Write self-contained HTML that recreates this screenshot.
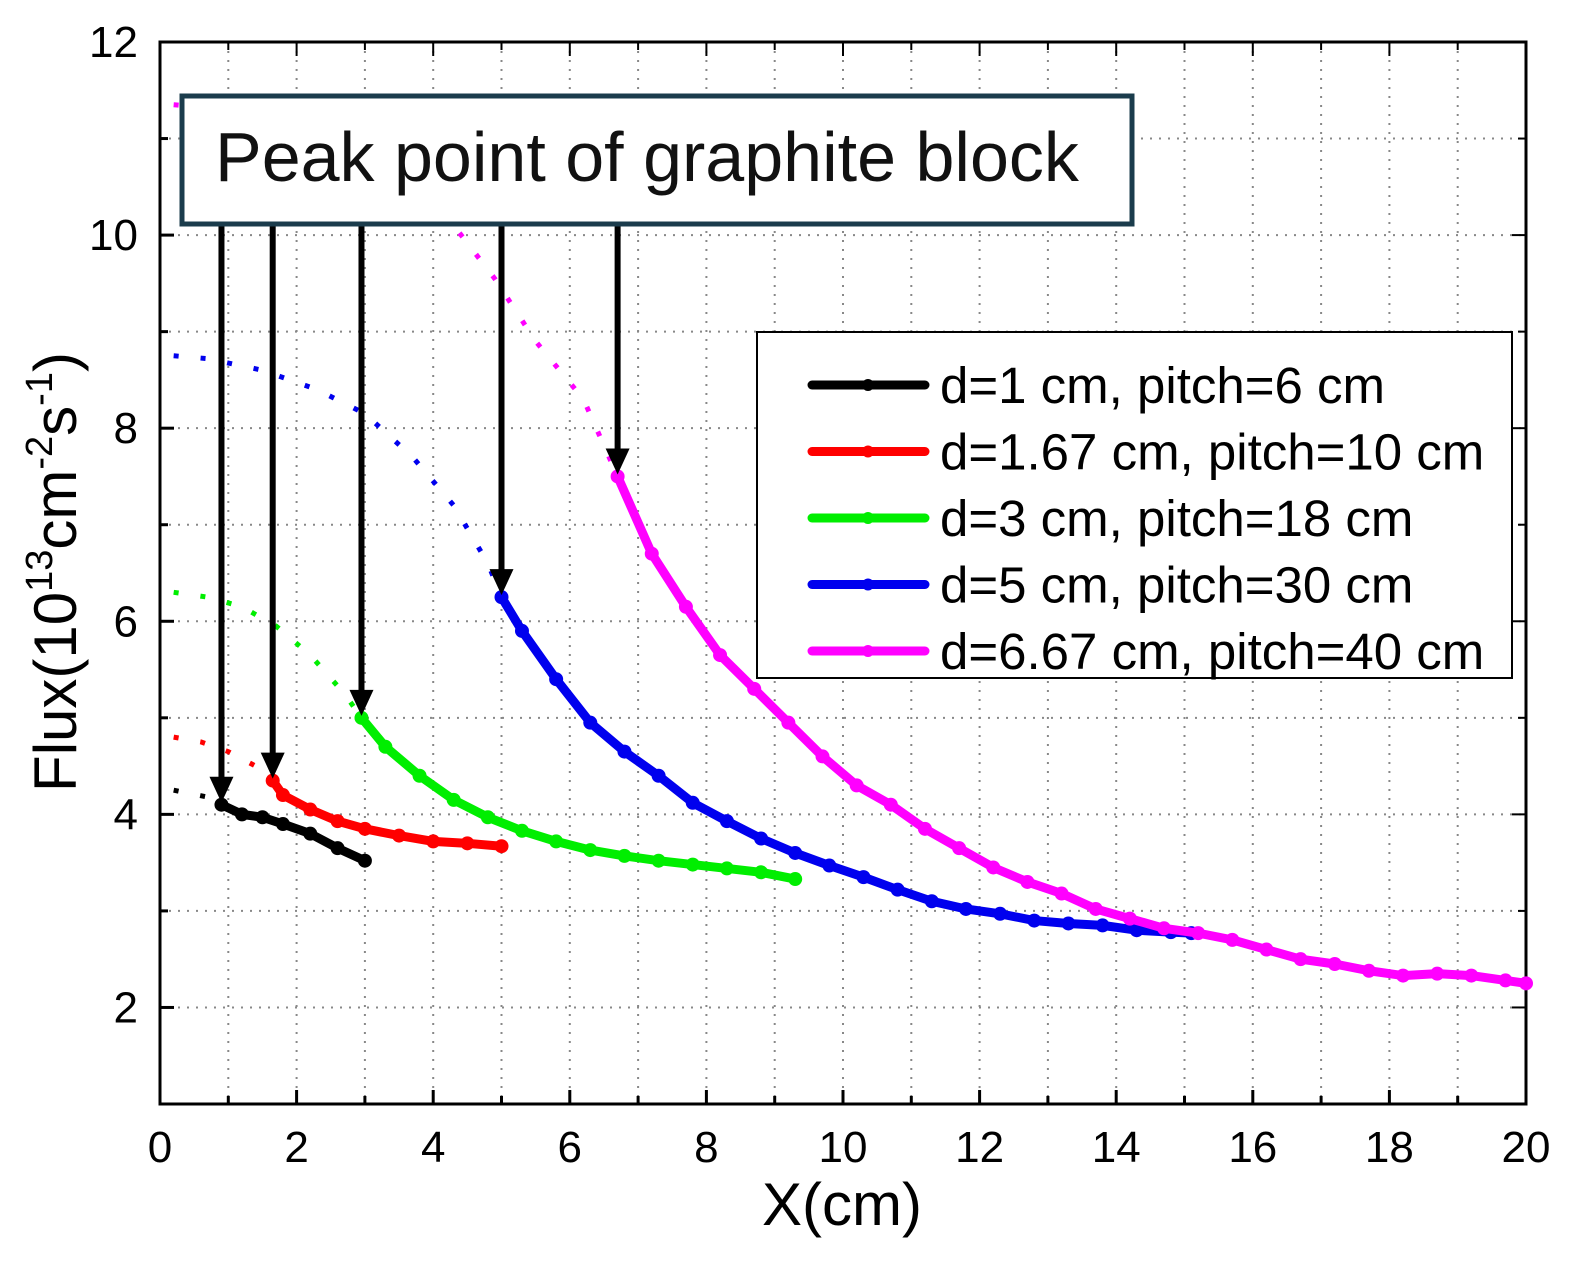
<!DOCTYPE html>
<html><head><meta charset="utf-8"><style>
body{margin:0;background:#fff;}
svg{display:block;font-family:"Liberation Sans",Arial,sans-serif;}
</style></head><body>
<svg id="chart" width="1588" height="1266" xmlns="http://www.w3.org/2000/svg">
<g id="grid"></g>
<g id="axes"></g>
<g id="series"></g>
<g id="arrows"></g>
<rect x="182" y="96" width="950" height="128" fill="#fff" stroke="#1b3c4c" stroke-width="5"/>
<text x="215" y="181" font-size="70" fill="#111">Peak point of graphite block</text>
<g id="legend"></g>
<text x="842" y="1225" font-size="60" text-anchor="middle" fill="#000">X(cm)</text>
<text transform="translate(76,572) rotate(-90)" font-size="60" text-anchor="middle" fill="#000">Flux(10<tspan font-size="38" dy="-24">13</tspan><tspan dy="24">cm</tspan><tspan font-size="38" dy="-24">-2</tspan><tspan dy="24">s</tspan><tspan font-size="38" dy="-24">-1</tspan><tspan dy="24">)</tspan></text>
</svg>
<script>
const xTicks=[0,2,4,6,8,10,12,14,16,18,20];
const yTicks=[2,4,6,8,10,12];
const seriesNames=["d=1 cm, pitch=6 cm","d=1.67 cm, pitch=10 cm","d=3 cm, pitch=18 cm","d=5 cm, pitch=30 cm","d=6.67 cm, pitch=40 cm"];
const seriesColors=["#000000","#ff0000","#00ee00","#0000ee","#ff00ff"];
const dotX0=[0.2,0.9];
const dotY0=[4.25,4.15];
const solX0=[0.9,1.2,1.5,1.8,2.2,2.6,3.0];
const solY0=[4.1,4.0,3.97,3.9,3.8,3.65,3.52];
const dotX1=[0.2,0.6,1.0,1.4,1.65];
const dotY1=[4.8,4.75,4.65,4.5,4.35];
const solX1=[1.65,1.8,2.2,2.6,3.0,3.5,4.0,4.5,5.0];
const solY1=[4.35,4.2,4.05,3.93,3.85,3.78,3.72,3.7,3.67];
const dotX2=[0.2,0.7,1.2,1.7,2.2,2.7,2.95];
const dotY2=[6.3,6.25,6.15,5.95,5.65,5.25,5.0];
const solX2=[2.95,3.3,3.8,4.3,4.8,5.3,5.8,6.3,6.8,7.3,7.8,8.3,8.8,9.3];
const solY2=[5.0,4.7,4.4,4.15,3.97,3.83,3.72,3.63,3.57,3.52,3.48,3.44,3.4,3.33];
const dotX3=[0.2,0.7,1.5,2.3,3.0,3.7,4.3,4.8,5.0];
const dotY3=[8.75,8.72,8.6,8.4,8.15,7.7,7.2,6.6,6.25];
const solX3=[5.0,5.3,5.8,6.3,6.8,7.3,7.8,8.3,8.8,9.3,9.8,10.3,10.8,11.3,11.8,12.3,12.8,13.3,13.8,14.3,14.8,15.1];
const solY3=[6.25,5.9,5.4,4.95,4.65,4.4,4.12,3.93,3.75,3.6,3.47,3.35,3.22,3.1,3.02,2.97,2.9,2.87,2.85,2.8,2.78,2.77];
const dotX4=[0.2,0.7,1.5,2.3,3.0,3.7,4.3,4.9,5.5,6.2,6.7];
const dotY4=[11.35,11.32,11.28,11.1,10.8,10.5,10.1,9.55,8.9,8.3,7.5];
const solX4=[6.7,7.2,7.7,8.2,8.7,9.2,9.7,10.2,10.7,11.2,11.7,12.2,12.7,13.2,13.7,14.2,14.7,15.2,15.7,16.2,16.7,17.2,17.7,18.2,18.7,19.2,19.7,20];
const solY4=[7.5,6.7,6.15,5.65,5.3,4.95,4.6,4.3,4.1,3.85,3.65,3.45,3.3,3.18,3.02,2.92,2.82,2.77,2.7,2.6,2.5,2.45,2.38,2.33,2.35,2.33,2.28,2.25];
const arrowX=[0.9,1.65,2.95,5.0,6.7];
const arrowY=[4.1,4.35,5.0,6.25,7.5];

const L=160,R=1526,T=42,B=1104;
const sx=v=>L+(v-0)*(R-L)/20;
const sy=v=>B-(v-1)*(B-T)/11;
const NS="http://www.w3.org/2000/svg";
function mk(tag,parent,attrs){const e=document.createElementNS(NS,tag);for(const k in attrs)e.setAttribute(k,attrs[k]);parent.appendChild(e);return e;}
const grid=document.getElementById('grid'),axes=document.getElementById('axes'),ser=document.getElementById('series'),arr=document.getElementById('arrows'),leg=document.getElementById('legend');
for(let v=1;v<20;v++){const e=mk('line',grid,{x1:sx(v),x2:sx(v),y1:T,y2:B,stroke:'#888','stroke-width':2,'stroke-dasharray':'2 7'});

}
for(let v=2;v<12;v++){const e=mk('line',grid,{x1:L,x2:R,y1:sy(v),y2:sy(v),stroke:'#888','stroke-width':2,'stroke-dasharray':'2 7'});

}
const fr=mk('rect',axes,{x:L,y:T,width:R-L,height:B-T,fill:'none',stroke:'#000','stroke-width':3});


for(let v=0;v<=20;v++){const big=v%2===0;mk('line',axes,{x1:sx(v),x2:sx(v),y1:B,y2:B-(big?14:8),stroke:'#000','stroke-width':3});mk('line',axes,{x1:sx(v),x2:sx(v),y1:T,y2:T+(big?14:8),stroke:'#000','stroke-width':2});}
for(let v=1;v<=12;v++){const big=v%2===0;mk('line',axes,{x1:L,x2:L+(big?14:8),y1:sy(v),y2:sy(v),stroke:'#000','stroke-width':3});mk('line',axes,{x1:R,x2:R-(big?14:8),y1:sy(v),y2:sy(v),stroke:'#000','stroke-width':2});}
xTicks.forEach(v=>{const t=mk('text',axes,{x:sx(v),y:1162,'font-size':44,'text-anchor':'middle'});t.textContent=v;

});
yTicks.forEach(v=>{const t=mk('text',axes,{x:138,y:sy(v)+15,'font-size':44,'text-anchor':'end'});t.textContent=v;

});
const dots=[[dotX0,dotY0],[dotX1,dotY1],[dotX2,dotY2],[dotX3,dotY3],[dotX4,dotY4]];
const sols=[[solX0,solY0],[solX1,solY1],[solX2,solY2],[solX3,solY3],[solX4,solY4]];
const pts=(xs,ys)=>xs.map((x,i)=>sx(x)+','+sy(ys[i])).join(' ');
for(let s=0;s<5;s++){const c=seriesColors[s];
const d=mk('polyline',ser,{points:pts(dots[s][0],dots[s][1]),fill:'none',stroke:c,'stroke-width':5,'stroke-dasharray':'5 22'});


const p=mk('polyline',ser,{points:pts(sols[s][0],sols[s][1]),fill:'none',stroke:c,'stroke-width':9,'stroke-linejoin':'round'});


sols[s][0].forEach((x,i)=>{const m=mk('circle',ser,{cx:sx(x),cy:sy(sols[s][1][i]),r:7,fill:c});

});}
arrowX.forEach((x,i)=>{const px=sx(x),py=sy(arrowY[i]);
const l=mk('line',arr,{x1:px,x2:px,y1:226,y2:py-20,stroke:'#000','stroke-width':6});


const h=mk('polygon',arr,{points:`${px-12},${py-28} ${px+12},${py-28} ${px},${py-2}`,fill:'#000'});

});
const lb=mk('rect',leg,{x:757,y:332,width:755,height:346,fill:'#fff',stroke:'#000','stroke-width':2});


seriesNames.forEach((n,i)=>{const y=385+i*66.5;
const g=mk('g',leg,{});


mk('line',g,{x1:812,x2:925,y1:y,y2:y,stroke:seriesColors[i],'stroke-width':9,'stroke-linecap':'round'});
mk('circle',g,{cx:868,cy:y,r:6,fill:seriesColors[i]});
const t=mk('text',g,{x:940,y:y+18,'font-size':51,fill:'#000'});t.textContent=n;});
</script>
</body></html>
